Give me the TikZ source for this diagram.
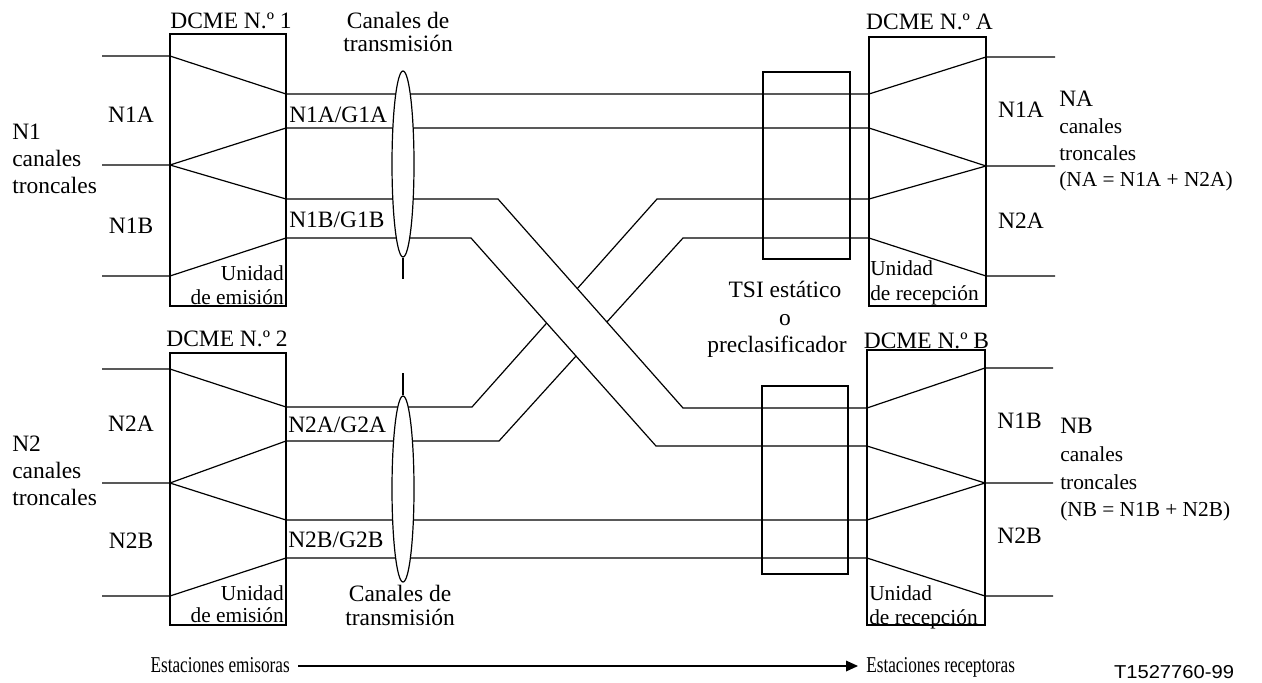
\documentclass[tikz,border=0pt]{standalone}
\usepackage{fontspec}
\setmainfont{Liberation Serif}
\newfontfamily\codefont{Liberation Sans}
\usetikzlibrary{arrows.meta,shapes.geometric}
\begin{document}
\begin{tikzpicture}[x=0.75pt,y=-0.75pt,
  ln/.style={line width=0.9pt},
  t/.style={inner sep=0pt,anchor=base,font=\fontsize{17.6}{20}\selectfont},
  tw/.style={t,anchor=base west},
  te/.style={t,anchor=base east},
  sw/.style={inner sep=0pt,anchor=base west,font=\fontsize{16}{17}\selectfont},
  se/.style={sw,anchor=base east},
  boxr/.style={draw,line width=0.9pt},
  bundle/.style={draw,fill=white,ellipse,line width=0.9pt,inner sep=0pt,minimum width=16.5pt,minimum height=139.5pt}]
\useasboundingbox (0,0) rectangle (1262,682);

% boxes
\draw[boxr] (170,34) rectangle (286,306);
\draw[boxr] (170,353) rectangle (286,625);
\draw[boxr] (869,37) rectangle (986,306);
\draw[boxr] (867,350) rectangle (985,625);
\draw[boxr] (763,72) rectangle (850,259);
\draw[boxr] (762,386) rectangle (848,574);

% straight channels
\draw[ln] (102,56) -- (170,56) -- (286,94) -- (869,94) -- (986,57) -- (1055,57);
\draw[ln] (102,165) -- (170,165) -- (286,128) -- (869,128) -- (986,166) -- (1055,166);
\draw[ln] (170,483) -- (286,520) -- (867,520) -- (985,483);
\draw[ln] (102,596) -- (170,596) -- (286,558) -- (867,558) -- (985,596) -- (1053,596);

% N2A channels (go under)
\draw[ln] (102,369) -- (170,369) -- (286,407) -- (472,407) -- (657,199) -- (869,199) -- (986,166);
\draw[ln] (102,483) -- (170,483) -- (286,441) -- (499,441) -- (683,238) -- (869,238) -- (986,276) -- (1055,276);

% N1B band on top
\fill[white] (498,199) -- (683,408) -- (656,446) -- (471,238) -- cycle;
\draw[ln] (170,165) -- (286,199) -- (498,199) -- (683,408) -- (867,408) -- (985,368) -- (1053,368);
\draw[ln] (102,276) -- (170,276) -- (286,238) -- (471,238) -- (656,446) -- (867,446) -- (985,483) -- (1053,483);

% bundle ellipses
\node[bundle] (ell1) at (403,164) {};
\node[bundle] (ell2) at (403,489) {};
\coordinate (tail1) at (403,279);
\coordinate (tail2) at (403,373);
\draw[ln] (ell1.south) -- (tail1);
\draw[ln] (ell2.north) -- (tail2);

% left labels
\node[tw] (n1) at (12,139) {N1};
\node[tw] (n1c) at (12,166) {canales};
\node[tw] (n1t) at (12,193) {troncales};
\node[tw] (n2) at (12,451.7) {N2};
\node[tw] (n2c) at (12,478.3) {canales};
\node[tw] (n2t) at (12,505) {troncales};
\node[t] (l1a) at (131,122) {N1A};
\node[t] (l1b) at (131,233) {N1B};
\node[t] (l2a) at (131,431.7) {N2A};
\node[t] (l2b) at (131,548) {N2B};

\node[tw] (g1a) at (289,122) {N1A/G1A};
\node[tw] (g1b) at (289,227.5) {N1B/G1B};
\node[tw] (g2a) at (288,432.7) {N2A/G2A};
\node[tw] (g2b) at (288,547.7) {N2B/G2B};

\node[se] (u1) at (284,280) {Unidad};
\node[se] (u1b) at (284,304) {de emisión};
\node[se] (u2) at (284,600) {Unidad};
\node[se] (u2b) at (284,622.7) {de emisión};

\node[t] (d1) at (231,28) {DCME N.º 1};
\node[t] (d2) at (227,346.7) {DCME N.º 2};
\node[t] (dA) at (929.5,29) {DCME N.º A};
\node[t] (dB) at (926.5,348) {DCME N.º B};

\node[t] (ct1) at (398,28) {Canales de};
\node[t] (ct1b) at (398,51) {transmisión};
\node[t] (ct2) at (400,601.7) {Canales de};
\node[t] (ct2b) at (400,625) {transmisión};

\node[t] (tsi) at (785,297) {TSI estático};
\node[t] (tsio) at (785,325) {o};
\node[t] (tsip) at (777,352) {preclasificador};

% right labels
\node[t] (r1a) at (1021,117) {N1A};
\node[t] (r2a) at (1021,228) {N2A};
\node[t] (r1b) at (1019.5,428) {N1B};
\node[t] (r2b) at (1019.5,543) {N2B};

\node[tw] (na) at (1059,106) {NA};
\node[sw] (nac) at (1059,133) {canales};
\node[sw] (nat) at (1059,160) {troncales};
\node[sw] (nae) at (1059,186) {(NA = N1A + N2A)};
\node[tw] (nb) at (1060,433.5) {NB};
\node[sw] (nbc) at (1060,461.7) {canales};
\node[sw] (nbt) at (1060,489.3) {troncales};
\node[sw] (nbe) at (1060,516.7) {(NB = N1B + N2B)};

\node[sw] (ua) at (870,275) {Unidad};
\node[sw] (uab) at (870,300) {de recepción};
\node[sw] (ub) at (869,600) {Unidad};
\node[sw] (ubb) at (869,624) {de recepción};

% bottom
\node[inner sep=0pt,anchor=base east,font=\fontsize{17}{20}\selectfont] (em) at (290,672) {\scalebox{0.76}[1]{Estaciones emisoras}};
\node[inner sep=0pt,anchor=base west,font=\fontsize{17}{20}\selectfont] (re) at (866,672) {\scalebox{0.76}[1]{Estaciones receptoras}};
\coordinate (a1) at (298,666);
\coordinate (a2) at (858,666);
\draw[line width=0.9pt,-{Triangle[length=9pt,width=8pt]}] (a1) -- (a2);
\node[inner sep=0pt,anchor=base,font=\codefont\fontsize{14}{16}\selectfont] (code) at (1174,678) {\scalebox{1.08}[1]{T1527760-99}};
\end{tikzpicture}
\end{document}
